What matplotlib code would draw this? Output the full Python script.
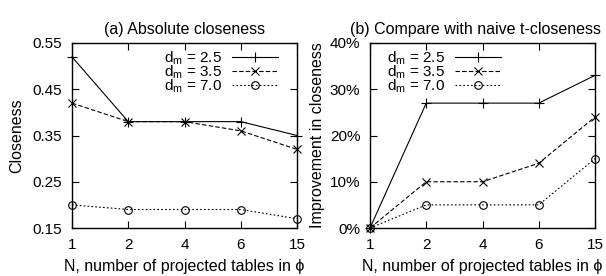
import matplotlib
matplotlib.use("Agg")
import matplotlib.pyplot as plt
from matplotlib.ticker import FuncFormatter

plt.rcParams['font.family'] = ['Liberation Sans', 'DejaVu Sans']
plt.rcParams['mathtext.fontset'] = 'custom'
plt.rcParams['mathtext.rm'] = 'Liberation Sans'

x_labels = ["1", "2", "4", "6", "15"]
series_labels = ["d$_\\mathregular{m}$ = 2.5", "d$_\\mathregular{m}$ = 3.5", "d$_\\mathregular{m}$ = 7.0"]

closeness_25 = [0.52, 0.38, 0.38, 0.38, 0.35]
closeness_35 = [0.42, 0.38, 0.38, 0.36, 0.32]
closeness_70 = [0.20, 0.19, 0.19, 0.19, 0.17]

improve_25 = [0, 27, 27, 27, 33]
improve_35 = [0, 10, 10, 14, 24]
improve_70 = [0, 5, 5, 5, 15]

styles = [
    dict(linestyle='-', marker='+', markersize=7.5, mfc='none'),
    dict(linestyle=(0, (4, 2)), marker='x', markersize=5.5, mfc='none'),
    dict(linestyle=(0, (1.5, 2)), marker='o', markersize=5.5, mfc='none'),
]

fig = plt.figure(figsize=(6.06, 2.76), dpi=100)
ax1 = fig.add_axes([72/606, 1-228/276, 225/606, 185/276])
ax2 = fig.add_axes([370/606, 1-228/276, 225/606, 185/276])

xpos = list(range(len(x_labels)))

leg_kw = dict(frameon=False, markerfirst=False, fontsize=11, handlelength=3.0,
              labelspacing=-0.22, borderpad=0.0, borderaxespad=0.0, handletextpad=0.65)

for ax, data in [(ax1, [closeness_25, closeness_35, closeness_70]),
                 (ax2, [improve_25, improve_35, improve_70])]:
    for vals, lab, st in zip(data, series_labels, styles):
        ax.plot(xpos, vals, color='black', linewidth=0.8, label=lab,
                markeredgewidth=0.8, clip_on=False, **st)
    ax.set_xlim(0, len(x_labels) - 1)
    ax.set_xticks(xpos)
    ax.set_xticklabels(x_labels)
    ax.tick_params(direction='in', top=True, right=True, labelsize=11, length=5, width=0.8)
    ax.tick_params(axis='x', pad=7.5)
    ax.tick_params(axis='y', pad=7)
    for s in ax.spines.values():
        s.set_linewidth(1.0)
    ax.set_xlabel("N, number of projected tables in \u03d5", fontsize=11.5, labelpad=5)

ax1.set_ylim(0.15, 0.55)
ax1.set_yticks([0.15, 0.25, 0.35, 0.45, 0.55])
ax1.set_yticklabels(["0.15", "0.25", "0.35", "0.45", "0.55"])
ax1.set_ylabel("Closeness", fontsize=11.5)
ax1.yaxis.set_label_coords((24-72)/225, 0.5)
ax1.set_title("(a) Absolute closeness", fontsize=11.5, pad=6.5)
ax1.legend(loc='upper right', bbox_to_anchor=((278-72)/225, (228-49)/185), **leg_kw)

ax2.set_ylim(0, 40)
ax2.set_yticks([0, 10, 20, 30, 40])
ax2.yaxis.set_major_formatter(FuncFormatter(lambda v, p: f"{int(v)}%"))
ax2.set_ylabel("Improvement in closeness", fontsize=11.5)
ax2.yaxis.set_label_coords((325-370)/225, 0.5)
ax2.set_title("(b) Compare with naive t-closeness", fontsize=11.5, pad=6.5,
              x=(475-370)/225)
ax2.legend(loc='upper left', bbox_to_anchor=((387-370)/225, (228-49)/185), **leg_kw)

fig.savefig("out.png", dpi=100)
